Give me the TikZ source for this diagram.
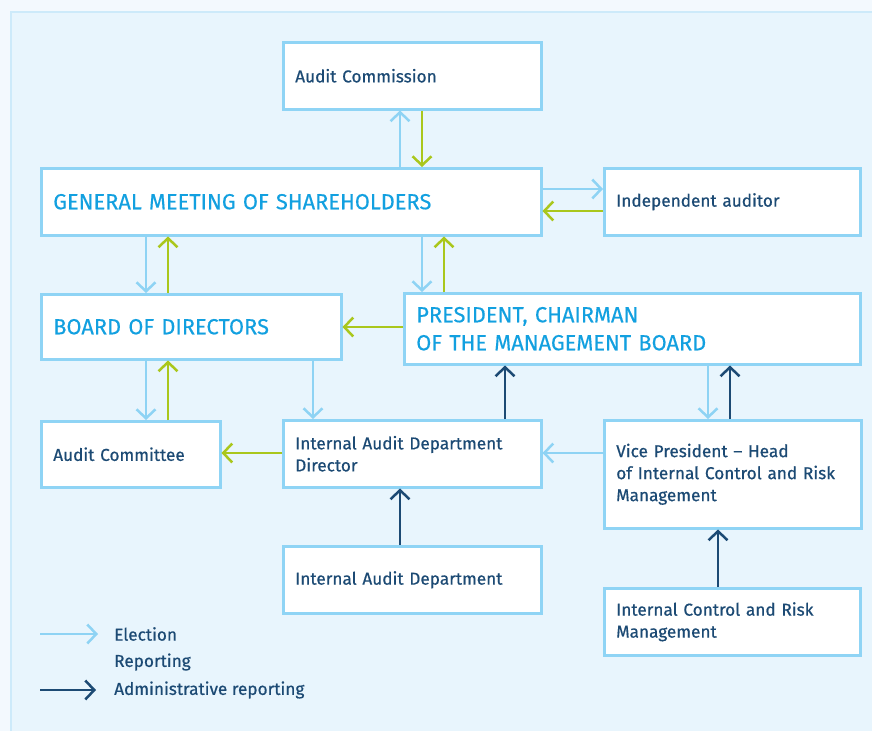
\documentclass[tikz,border=0pt]{standalone}
\usepackage{fontspec}
\setmainfont{Fira Sans}
\newfontfamily\smallfnt{Fira Sans}[FakeBold=0.6,Ligatures=TeX]
\newfontfamily\bigfnt{Fira Sans}[FakeBold=0.3,Ligatures=TeX]
\usetikzlibrary{arrows.meta}
\definecolor{outerbg}{HTML}{F3F9FE}
\definecolor{panelbg}{HTML}{E8F5FD}
\definecolor{panelline}{HTML}{CDEAFA}
\definecolor{boxline}{HTML}{8FD4F5}
\definecolor{elecc}{HTML}{8ED3F4}
\definecolor{repc}{HTML}{AAC71C}
\definecolor{navy}{HTML}{1C4A74}
\definecolor{headc}{HTML}{12A0E0}
\begin{document}
\begin{tikzpicture}[x=1pt,y=-1pt,
  box/.style={draw=boxline, line width=2.5pt, fill=white, anchor=north west,
    inner xsep=12pt, inner ysep=0pt, align=left, text=navy,
    font=\smallfnt\fontsize{17.2}{22}\selectfont},
  bigbox/.style={box, text=headc, font=\bigfnt\fontsize{21.8}{28}\selectfont},
  tipx/.style={-{Straight Barb[length=9pt,width=19pt]}},
  elec/.style={tipx, draw=elecc, line width=2.5pt},
  rep/.style={tipx, draw=repc, line width=2.5pt},
  adm/.style={tipx, draw=navy, line width=2.5pt},
  legend/.style={anchor=west, inner sep=0pt, text=navy, font=\smallfnt\fontsize{17.2}{22}\selectfont}]
\useasboundingbox (0,0) rectangle (872,731);
\fill[outerbg] (0,0) rectangle (872,731);
\fill[panelbg] (10,11) rectangle (872,731);
\draw[panelline, line width=2pt] (11,731) -- (11,12) -- (872,12);

\node[box, minimum width=258pt, minimum height=67pt, text width=234pt] (acom) at (282,41) {Audit Commission};
\node[bigbox, minimum width=500pt, minimum height=67pt, text width=476pt] (gm) at (40,167) {GENERAL MEETING OF SHAREHOLDERS};
\node[box, minimum width=256pt, minimum height=67pt, text width=232pt] (ia) at (603,167) {Independent auditor};
\node[bigbox, minimum width=300pt, minimum height=65pt, text width=276pt] (bod) at (40,293) {BOARD OF DIRECTORS};
\node[bigbox, minimum width=456pt, minimum height=71pt, text width=432pt] (pres) at (403,292) {PRESIDENT, CHAIRMAN\\OF THE MANAGEMENT BOARD};
\node[box, minimum width=179pt, minimum height=66pt, text width=155pt] (acomm) at (40,420) {Audit Committee};
\node[box, minimum width=258pt, minimum height=67pt, text width=234pt] (iadd) at (282,419) {Internal Audit Department\\Director};
\node[box, minimum width=257pt, minimum height=108pt, text width=233pt] (vp) at (603,419) {Vice President – Head\\of Internal Control and Risk\\Management};
\node[box, minimum width=258pt, minimum height=67pt, text width=234pt] (iad) at (282,545) {Internal Audit Department};
\node[box, minimum width=256pt, minimum height=67pt, text width=232pt] (icrm) at (603,587) {Internal Control and Risk\\Management};

\draw[elec] (gm.north -| 400,0) -- (acom.south -| 400,0);
\draw[rep] (acom.south -| 422,0) -- (gm.north -| 422,0);
\draw[elec] (gm.east |- 0,189) -- (ia.west |- 0,189);
\draw[rep] (ia.west |- 0,211) -- (gm.east |- 0,211);
\draw[elec] (gm.south -| 146,0) -- (bod.north -| 146,0);
\draw[rep] (bod.north -| 168,0) -- (gm.south -| 168,0);
\draw[elec] (gm.south -| 422,0) -- (pres.north -| 422,0);
\draw[rep] (pres.north -| 444,0) -- (gm.south -| 444,0);
\draw[rep] (pres.west |- 0,327) -- (bod.east |- 0,327);
\draw[elec] (bod.south -| 146,0) -- (acomm.north -| 146,0);
\draw[rep] (acomm.north -| 168,0) -- (bod.south -| 168,0);
\draw[elec] (bod.south -| 313,0) -- (iadd.north -| 313,0);
\draw[rep] (iadd.west |- 0,453) -- (acomm.east |- 0,453);
\draw[adm] (iadd.north -| 505,0) -- (pres.south -| 505,0);
\draw[elec] (vp.west |- 0,453) -- (iadd.east |- 0,453);
\draw[elec] (pres.south -| 708,0) -- (vp.north -| 708,0);
\draw[adm] (vp.north -| 730,0) -- (pres.south -| 730,0);
\draw[adm] (iad.north -| 400,0) -- (iadd.south -| 400,0);
\draw[adm] (icrm.north -| 718,0) -- (vp.south -| 718,0);

\coordinate (l1a) at (40,634);
\coordinate (l1b) at (98,634);
\coordinate (l3a) at (40,690);
\coordinate (l3b) at (96,690);
\draw[elec] (l1a) -- (l1b);
\draw[adm] (l3a) -- (l3b);
\node[legend] (le) at (114,634) {Election};
\node[legend] (lr) at (114,662) {Reporting};
\node[legend] (la) at (114,690) {Administrative reporting};
\end{tikzpicture}
\end{document}
